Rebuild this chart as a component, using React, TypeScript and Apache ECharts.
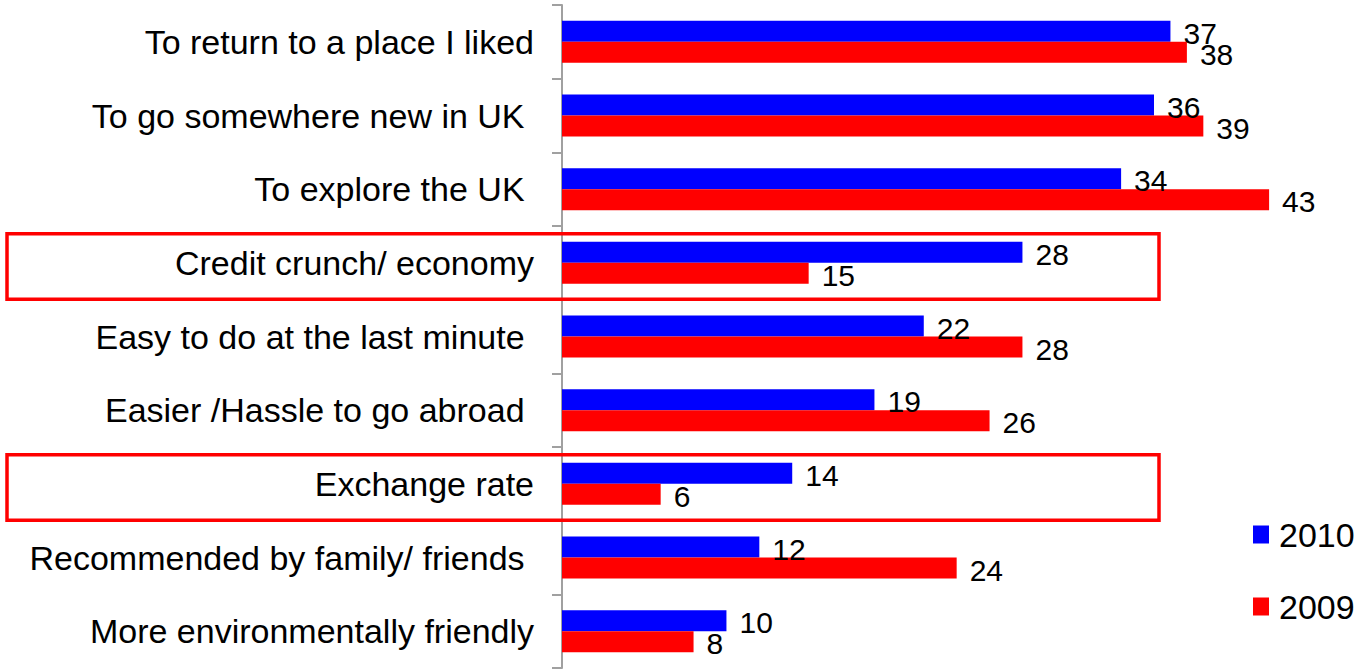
import React, { useEffect, useRef } from "react";
import * as echarts from "echarts";

const categories = [
  "To return to a place I liked",
  "To go somewhere new in UK\u00a0",
  "To explore the UK\u00a0",
  "Credit crunch/ economy",
  "Easy to do at the last minute\u00a0",
  "Easier /Hassle to go abroad\u00a0",
  "Exchange rate",
  "Recommended by family/ friends\u00a0",
  "More environmentally friendly",
];
const values2010 = [37, 36, 34, 28, 22, 19, 14, 12, 10];
const values2009 = [38, 39, 43, 15, 28, 26, 6, 24, 8];
const highlighted = ["Credit crunch/ economy", "Exchange rate"];

const FONT = "'Liberation Sans', Arial, sans-serif";

export default function App() {
  const ref = useRef<HTMLDivElement>(null);
  useEffect(() => {
    if (!ref.current) return;
    const chart = echarts.init(ref.current, undefined, { renderer: "svg" });
    const labelOpt = {
      show: true,
      position: "right",
      distance: 13,
      offset: [0, 2],
      color: "#000",
      fontSize: 30,
      fontFamily: FONT,
    };
    chart.setOption({
      animation: false,
      backgroundColor: "#fff",
      grid: { left: 562, right: 61, top: 5, bottom: 3, containLabel: false },
      legend: {
        orient: "vertical",
        left: 1253,
        top: 513,
        padding: 0,
        itemWidth: 16,
        itemHeight: 18,
        itemGap: 29,
        icon: "rect",
        data: ["2010", "2009"],
        textStyle: {
          fontSize: 34,
          fontFamily: FONT,
          color: "#000",
          lineHeight: 40,
          padding: [3, 0, 0, 5],
        },
      },
      xAxis: {
        type: "value",
        min: 0,
        max: 45,
        show: false,
        splitLine: { show: false },
      },
      yAxis: {
        type: "category",
        inverse: true,
        data: categories,
        axisLine: { show: true, lineStyle: { color: "#a0a0a0", width: 2 } },
        axisTick: { show: true, length: 10, lineStyle: { color: "#a0a0a0", width: 2 } },
        axisLabel: {
          margin: 28,
          color: "#000",
          fontSize: 34,
          fontFamily: FONT,
        },
      },
      series: [
        {
          name: "2010",
          type: "bar",
          data: values2010,
          barWidth: 21,
          barGap: "0%",
          itemStyle: { color: "#0000ff" },
          label: labelOpt,
        },
        {
          name: "2009",
          type: "bar",
          data: values2009,
          barWidth: 21,
          barGap: "0%",
          itemStyle: { color: "#ff0000" },
          label: labelOpt,
        },
      ],
    });
    const graphics = highlighted.map((c) => {
      const cy = chart.convertToPixel({ yAxisIndex: 0 }, c) as number;
      return {
        type: "rect",
        shape: { x: 7, y: cy - 29, width: 1152, height: 65.5 },
        style: { fill: "none", stroke: "#ff0000", lineWidth: 3.5 },
        z: 10,
      };
    });
    chart.setOption({ graphic: graphics });
    return () => chart.dispose();
  }, []);
  return (
    <div
      ref={ref}
      style={{ position: "absolute", left: 0, top: 0, width: 1363, height: 671 }}
    />
  );
}
